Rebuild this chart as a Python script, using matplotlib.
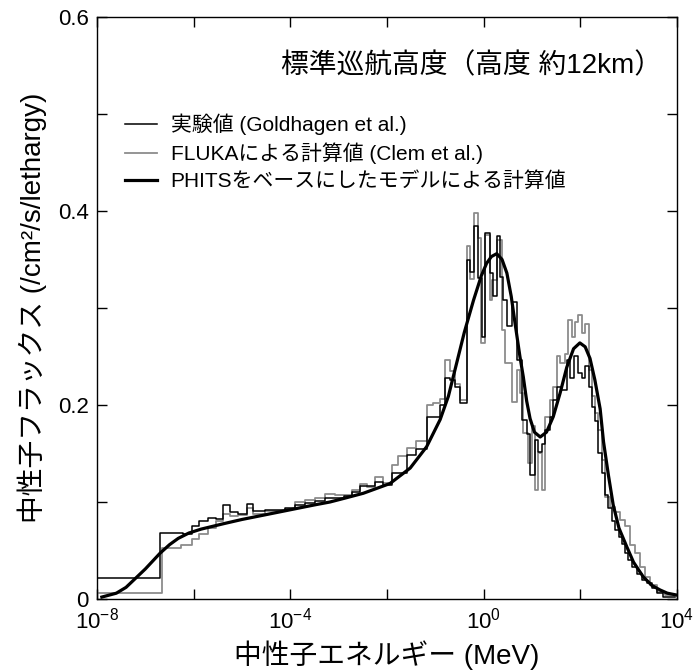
import numpy as np
import matplotlib
matplotlib.use("Agg")
import matplotlib.pyplot as plt
from matplotlib.ticker import FixedLocator, NullFormatter

plt.rcParams['font.family'] = ['Liberation Sans', 'Noto Sans CJK JP', 'DejaVu Sans']
plt.rcParams['mathtext.fontset'] = 'custom'
plt.rcParams['mathtext.rm'] = 'Liberation Sans'
plt.rcParams['mathtext.it'] = 'Liberation Sans:italic'
plt.rcParams['mathtext.bf'] = 'Liberation Sans:bold'

# log10(E / MeV) bin edges and flux per lethargy
exp_edges = [-8.0, -6.70, -6.23, -6.04, -5.89, -5.71, -5.54, -5.39, -5.25, -5.08,
             -4.90, -4.77, -4.52, -4.11, -3.90, -3.70, -3.49, -3.28, -3.08, -2.90,
             -2.73, -2.56, -2.25, -2.08, -1.90, -1.59, -1.39, -1.18, -0.90, -0.80,
             -0.70, -0.59, -0.49, -0.35, -0.28, -0.21, -0.11, -0.04, 0.03, 0.13,
             0.20, 0.27, 0.34, 0.41, 0.48, 0.58, 0.68, 0.79, 0.89, 0.96,
             1.06, 1.13, 1.20, 1.27, 1.37, 1.44, 1.51, 1.61, 1.72, 1.79,
             1.86, 1.96, 2.03, 2.10, 2.17, 2.24, 2.30, 2.37, 2.44, 2.51,
             2.58, 2.65, 2.72, 2.79, 2.86, 2.92, 2.99, 3.06, 3.17, 3.27,
             3.37, 3.48, 3.58, 3.72, 3.96]
exp_flux = [0.022, 0.068, 0.067, 0.075, 0.080, 0.083, 0.082, 0.097, 0.090,
            0.088, 0.098, 0.091, 0.092, 0.094, 0.097, 0.099, 0.101, 0.104, 0.104,
            0.106, 0.110, 0.116, 0.121, 0.118, 0.130, 0.148, 0.155, 0.188, 0.200,
            0.228, 0.226, 0.219, 0.202, 0.349, 0.337, 0.385, 0.331, 0.270, 0.377,
            0.336, 0.312, 0.374, 0.332, 0.308, 0.281, 0.306, 0.246, 0.185, 0.170,
            0.128, 0.164, 0.152, 0.160, 0.174, 0.188, 0.205, 0.219, 0.215, 0.246,
            0.228, 0.250, 0.233, 0.228, 0.240, 0.219, 0.198, 0.183, 0.150, 0.130,
            0.107, 0.094, 0.080, 0.071, 0.064, 0.057, 0.047, 0.040, 0.033, 0.026,
            0.020, 0.016, 0.011, 0.006, 0.0024]

fluka_edges = [-8.0, -6.66, -6.26, -6.04, -5.89, -5.71, -5.54, -5.39, -5.25, -5.08,
               -4.90, -4.77, -4.52, -4.11, -3.90, -3.70, -3.49, -3.28, -3.08, -2.73,
               -2.56, -2.42, -2.25, -2.08, -1.90, -1.77, -1.59, -1.39, -1.18, -1.04,
               -0.90, -0.80, -0.70, -0.59, -0.49, -0.35, -0.28, -0.21, -0.11, -0.06,
               0.03, 0.13, 0.17, 0.27, 0.37, 0.44, 0.58, 0.68, 0.75, 0.82,
               0.92, 0.99, 1.06, 1.13, 1.20, 1.27, 1.37, 1.44, 1.51, 1.58,
               1.68, 1.75, 1.82, 1.89, 1.96, 2.03, 2.10, 2.17, 2.24, 2.30,
               2.37, 2.44, 2.51, 2.61, 2.72, 2.82, 2.92, 3.02, 3.13, 3.24,
               3.34, 3.44, 3.58, 3.75, 4.0]
fluka_flux = [0.0065, 0.0525, 0.056, 0.062, 0.067, 0.073, 0.080, 0.088, 0.086,
              0.087, 0.094, 0.088, 0.091, 0.093, 0.100, 0.102, 0.104, 0.108, 0.107,
              0.112, 0.119, 0.115, 0.126, 0.120, 0.138, 0.147, 0.156, 0.163, 0.200,
              0.202, 0.206, 0.246, 0.235, 0.222, 0.205, 0.364, 0.330, 0.398, 0.372,
              0.264, 0.375, 0.308, 0.329, 0.370, 0.277, 0.243, 0.203, 0.236, 0.212,
              0.171, 0.140, 0.178, 0.112, 0.150, 0.112, 0.188, 0.205, 0.219, 0.250,
              0.243, 0.253, 0.288, 0.270, 0.286, 0.293, 0.274, 0.284, 0.236, 0.209,
              0.192, 0.174, 0.143, 0.105, 0.095, 0.090, 0.081, 0.075, 0.056, 0.047,
              0.033, 0.023, 0.014, 0.0075, 0.004]

phits_loge = [-7.90, -7.60, -7.40, -7.21, -7.00, -6.85, -6.70, -6.50, -6.32, -6.10,
              -5.85, -5.56, -5.35, -5.00, -4.50, -4.00, -3.50, -3.18, -2.87, -2.49,
              -1.94, -1.52, -1.18, -0.90, -0.73, -0.56, -0.40, -0.21, -0.05, 0.06,
              0.16, 0.27, 0.38, 0.48, 0.57, 0.65, 0.75, 0.82, 0.89, 0.96,
              1.05, 1.17, 1.30, 1.44, 1.58, 1.72, 1.86, 1.99, 2.10, 2.20,
              2.30, 2.41, 2.48, 2.58, 2.68, 2.80, 2.96, 3.10, 3.30, 3.48,
              3.65, 3.80, 4.0]
phits_flux = [0.002, 0.006, 0.012, 0.021, 0.031, 0.039, 0.047, 0.056, 0.0625, 0.068,
              0.072, 0.0755, 0.078, 0.082, 0.087, 0.092, 0.097, 0.100, 0.104, 0.109,
              0.119, 0.135, 0.157, 0.185, 0.209, 0.243, 0.275, 0.308, 0.333, 0.346,
              0.353, 0.356, 0.350, 0.336, 0.312, 0.284, 0.250, 0.229, 0.204, 0.186,
              0.172, 0.167, 0.172, 0.188, 0.212, 0.239, 0.258, 0.264, 0.260, 0.248,
              0.226, 0.196, 0.162, 0.128, 0.097, 0.073, 0.054, 0.038, 0.023, 0.014,
              0.0093, 0.006, 0.004]

legend_labels = ['実験値 (Goldhagen et al.)',
                 'FLUKAによる計算値 (Clem et al.)',
                 'PHITSをベースにしたモデルによる計算値']

fig = plt.figure(figsize=(6.94, 6.71), dpi=100)
ax = fig.add_axes([0.1398, 0.1073, 0.8357, 0.8674])

e_exp = 10 ** np.array(exp_edges)
e_fl = 10 ** np.array(fluka_edges)

l2, = ax.plot(e_fl, np.append(fluka_flux, fluka_flux[-1]), drawstyle='steps-post',
              color='#8c8c8c', lw=1.3)
l1, = ax.plot(e_exp, np.append(exp_flux, exp_flux[-1]), drawstyle='steps-post',
              color='black', lw=1.1)
l3, = ax.plot(10 ** np.array(phits_loge), phits_flux, color='black', lw=2.3,
              solid_joinstyle='round')

ax.set_xscale('log')
ax.set_xlim(1e-8, 1e4)
ax.set_ylim(0, 0.6)

ax.xaxis.set_major_locator(FixedLocator([1e-8, 1e-4, 1e0, 1e4]))
ax.xaxis.set_minor_locator(FixedLocator([1e-6, 1e-2, 1e2]))
ax.xaxis.set_minor_formatter(NullFormatter())
ax.set_yticks([0, 0.2, 0.4, 0.6])
ax.set_yticklabels(['0', '0.2', '0.4', '0.6'])
ax.yaxis.set_minor_locator(FixedLocator([0.1, 0.3, 0.5]))

ax.tick_params(which='both', direction='in', top=True, right=True,
               length=7, width=1, labelsize=16, pad=6)

ax.set_xlabel('中性子エネルギー (MeV)', fontsize=20, labelpad=5)
ax.set_ylabel('中性子フラックス (/cm²/s/lethargy)', fontsize=20, labelpad=8)

ax.text(0.975, 0.915, '標準巡航高度（高度 約12km）', transform=ax.transAxes,
        ha='right', va='center', fontsize=20)

ax.legend([l1, l2, l3], legend_labels, loc='upper left',
          bbox_to_anchor=(0.048, 0.834), frameon=False, fontsize=15,
          handlelength=1.55, handletextpad=0.65, labelspacing=0.35,
          borderaxespad=0, borderpad=0)

for s in ax.spines.values():
    s.set_linewidth(1.0)

fig.savefig('out.png', dpi=100)
